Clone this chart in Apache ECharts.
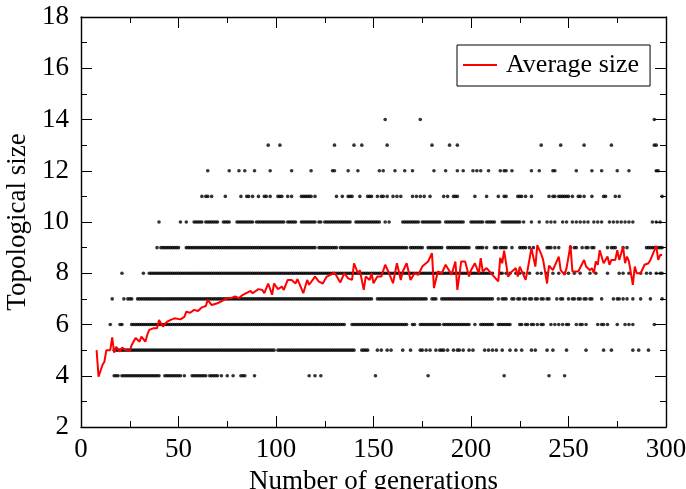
<!DOCTYPE html>
<html>
<head>
<meta charset="utf-8">
<script src="https://cdn.jsdelivr.net/npm/echarts@6/dist/echarts.min.js"></script>
<style>html,body{margin:0;padding:0;background:#fff;}#chart{width:686px;height:489px;}</style>
</head>
<body>
<div id="chart"></div>
<script>
// Dots: individuals' topological size per generation. Entries are single generations or [from, to] runs of consecutive generations.
const dotsL4 = [[17,19],[21,40],[43,51],53,[57,64],[66,70],72,75,78,[82,84],89,117,120,123,151,178,217,240,248];
const dotsL5 = [[17,99],[101,140],[144,147],152,154,157,159,165,169,174,175,177,179,182,184,185,186,188,191,193,194,196,199,201,207,209,211,213,216,220,223,226,231,233,239,242,249,259,268,272,283,286,291];
const dotsL6 = [15,20,21,[26,127],[128,135],[139,167],170,171,[174,184],[186,199],202,[205,211],[214,220],225,226,228,229,231,232,234,236,237,241,243,245,247,249,250,254,256,257,259,265,267,268,270,275,279,281,283,294];
const dotsL7 = [16,22,[24,26],[29,149],[152,177],[180,182],[185,211],214,[216,218],221,222,224,225,227,228,230,231,233,234,236,237,239,240,244,246,247,250,252,253,255,256,258,259,261,262,267,273,275,276,278,280,283,287,292,298];
const dotsL8 = [21,32,[35,211],215,216,218,220,223,225,227,230,234,236,239,242,245,248,250,253,256,261,264,270,276,278,281,287,290,292,295,297,298];
const dotsL9 = [39,[41,50],[54,120],[122,131],[133,167],[169,175],[178,185],[188,199],[203,206],208,212,213,215,216,217,218,221,225,226,227,228,230,232,239,240,241,243,245,251,253,254,257,259,260,262,263,270,272,273,274,278,280,290,291,292,293,294,296,297,298];
const dotsL10 = [40,51,54,[58,62],[64,67],[68,70],[73,76],[80,84],[85,88],[90,99],[100,104],[106,110],[113,120],[122,123],[125,129],[130,138],[141,144],[145,153],156,158,[165,173],[175,184],[187,196],[200,206],[208,212],[216,225],227,231,235,239,241,243,247,249,252,254,256,258,260,263,265,267,271,273,275,277,279,281,283,293,295,297];
const dotsL11 = [62,64,65,67,74,82,85,86,88,91,94,95,97,101,102,103,106,108,113,114,115,116,117,118,120,131,134,137,138,139,143,147,148,149,152,154,155,157,160,162,164,170,172,174,176,179,186,188,191,192,193,202,208,214,217,218,224,225,226,228,231,240,242,243,245,246,247,248,249,250,252,255,256,258,262,268,269,274,276,298];
const dotsL12 = [65,76,81,84,89,97,108,118,129,130,137,142,153,155,161,166,170,181,187,193,196,201,203,205,209,215,217,218,221,231,235,242,243,254,262,267,275,281,295,296];
const dotsL13 = [96,102,130,140,144,157,180,189,193,236,246,258,272,294,295];
const dotsL14 = [156,174,294];

// Average topological size per generation (red line)
const avgGen = [8,9,11,12,13,15,16,17,18,20,21,23,25,26,27,28,30,31,33,34,35,37,39,40,42,44,46,48,51,53,54,56,58,60,62,64,65,67,70,72,75,77,79,81,83,87,88,91,93,94,96,98,99,101,103,104,106,108,110,111,114,116,117,120,122,124,126,128,130,133,135,137,139,140,142,143,145,146,148,149,150,152,154,156,158,160,162,164,165,167,169,171,173,175,178,180,181,183,185,187,188,190,192,193,195,197,199,200,202,204,205,206,208,211,214,215,216,217,219,221,223,224,225,228,229,231,233,234,236,237,239,240,242,245,246,248,249,251,252,253,255,258,259,261,262,263,264,265,266,268,270,271,272,274,275,276,278,279,280,281,283,284,285,286,287,289,291,292,293,295,296,297,298];
const avgSize = [5.0,3.96,4.42,4.55,5.0,5.0,5.5,4.9,5.13,4.94,5.1,5.0,4.97,5.2,5.13,5.47,5.33,5.53,5.33,5.6,5.79,5.85,5.85,6.18,5.92,6.1,6.18,6.24,6.2,6.3,6.5,6.46,6.57,6.53,6.67,6.72,6.96,6.76,6.83,6.9,7.03,7.03,7.1,7.03,7.16,7.31,7.22,7.38,7.35,7.22,7.6,7.16,7.6,7.38,7.48,7.35,7.74,7.74,7.6,7.77,7.22,7.74,7.55,7.87,7.67,7.6,7.87,7.94,8.03,7.64,8.0,7.8,7.74,8.39,8.0,8.12,7.35,7.87,7.74,8.0,7.61,7.87,7.87,8.33,8.0,7.61,8.39,7.74,8.07,8.39,7.74,8.0,7.94,8.26,8.46,8.78,7.42,8.07,8.0,8.33,8.26,7.94,8.46,7.35,8.46,8.46,7.87,8.12,8.39,8.0,8.59,8.07,8.2,7.94,7.68,8.6,8.39,8.88,7.87,8.07,8.2,7.87,8.26,7.74,8.12,8.98,8.26,9.1,8.75,8.52,7.6,8.3,8.12,8.65,8.12,7.94,8.2,9.1,8.07,8.12,8.07,8.52,8.26,8.12,8.2,8.0,8.46,8.33,8.9,8.39,8.65,8.33,8.52,8.52,8.9,8.52,9.03,8.39,8.65,8.46,7.55,8.26,8.0,8.07,8.0,8.33,8.39,8.52,8.58,9.07,8.52,8.71,8.71];

const seriesName = 'Average size';
const xTitle = 'Number of generations';
const yTitle = 'Topological size';

const levelLists = [[4,dotsL4],[5,dotsL5],[6,dotsL6],[7,dotsL7],[8,dotsL8],[9,dotsL9],[10,dotsL10],[11,dotsL11],[12,dotsL12],[13,dotsL13],[14,dotsL14]];
const dots = [];
levelLists.forEach(([lvl, list]) => {
  list.forEach(e => {
    if (Array.isArray(e)) { for (let g = e[0]; g <= e[1]; g++) dots.push([g, lvl]); }
    else dots.push([e, lvl]);
  });
});
const avgData = avgGen.map((g, i) => [g, avgSize[i]]);

const FONT = '"Liberation Serif", "DejaVu Serif", serif';
function xAx(pos, show) {
  return {
    type: 'value', position: pos, min: 0, max: 300, interval: 50,
    axisLine: { show: true, onZero: false, lineStyle: { color: '#000', width: 1.4 } },
    axisTick: { show: true, inside: true, length: 11, lineStyle: { color: '#000', width: 1 } },
    minorTick: { show: true, splitNumber: 2, length: 6, lineStyle: { color: '#000', width: 1 } },
    splitLine: { show: false },
    axisLabel: { show: show, fontFamily: FONT, fontSize: 27, color: '#000', margin: 9 },
    name: show ? xTitle : '', nameLocation: 'middle', nameGap: 41,
    nameTextStyle: { fontFamily: FONT, fontSize: 27, color: '#000' }
  };
}
function yAx(pos, show) {
  return {
    type: 'value', position: pos, min: 2, max: 18, interval: 2,
    axisLine: { show: true, onZero: false, lineStyle: { color: '#000', width: 1.4 } },
    axisTick: { show: true, inside: true, length: 11, lineStyle: { color: '#000', width: 1 } },
    minorTick: { show: true, splitNumber: 2, length: 6, lineStyle: { color: '#000', width: 1 } },
    splitLine: { show: false },
    axisLabel: { show: show, fontFamily: FONT, fontSize: 27, color: '#000', margin: 12 },
    name: show ? yTitle : '', nameLocation: 'middle', nameGap: 47,
    nameTextStyle: { fontFamily: FONT, fontSize: 27, color: '#000' }
  };
}

const chart = echarts.init(document.getElementById('chart'), null, { renderer: 'canvas' });
chart.setOption({
  animation: false,
  backgroundColor: '#fff',
  grid: { left: 81, right: 20, top: 17, bottom: 62, containLabel: false, outerBoundsMode: 'none' },
  xAxis: [xAx('bottom', true), xAx('top', false)],
  yAxis: [yAx('left', true), yAx('right', false)],
  legend: {
    data: [{ name: seriesName, icon: 'rect' }], left: 457, top: 45,
    orient: 'vertical',
    padding: [7, 11, 8, 6],
    borderColor: '#000', borderWidth: 1, borderRadius: 0,
    itemWidth: 34, itemHeight: 2,
    textStyle: { fontFamily: FONT, fontSize: 26, color: '#000', padding: [0, 0, 0, 4] }
  },
  series: [
    {
      type: 'scatter', name: 'Individuals', data: dots, xAxisIndex: 0, yAxisIndex: 0,
      symbol: 'circle', symbolSize: 3.6, itemStyle: { color: '#000' }, z: 2, silent: true
    },
    {
      type: 'line', name: seriesName, data: avgData, xAxisIndex: 0, yAxisIndex: 0,
      symbol: 'none', lineStyle: { color: '#ff0000', width: 2 }, itemStyle: { color: '#ff0000' }, z: 3
    }
  ]
});
</script>
</body>
</html>
